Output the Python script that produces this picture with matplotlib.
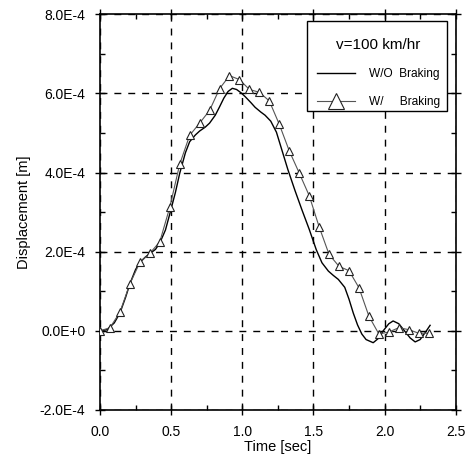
import matplotlib
matplotlib.use("Agg")
import matplotlib.pyplot as plt
from matplotlib.ticker import MultipleLocator, FixedLocator
from matplotlib.patches import Rectangle

plt.rcParams['font.family'] = ['Liberation Sans', 'DejaVu Sans']

# W/ Braking (triangles), time [s], displacement [1e-4 m]
t_brk = [0.00, 0.07, 0.14, 0.21, 0.28, 0.35, 0.42, 0.49, 0.56, 0.63, 0.70,
         0.77, 0.84, 0.91, 0.98, 1.05, 1.12, 1.19, 1.26, 1.33, 1.40, 1.47,
         1.54, 1.61, 1.68, 1.75, 1.82, 1.89, 1.96, 2.03, 2.10, 2.17, 2.24, 2.31]
d_brk = [0.00, 0.08, 0.47, 1.19, 1.73, 1.96, 2.25, 3.12, 4.21, 4.94, 5.25,
         5.57, 6.12, 6.45, 6.35, 6.10, 6.03, 5.81, 5.22, 4.55, 3.99, 3.42,
         2.63, 1.93, 1.63, 1.52, 1.09, 0.37, -0.08, -0.03, 0.08, 0.03, -0.06, -0.06]

# W/O Braking (solid line)
t_nob = [0.00, 0.05, 0.10, 0.14, 0.18, 0.21, 0.25, 0.28, 0.32, 0.35, 0.39,
         0.42, 0.46, 0.49, 0.53, 0.56, 0.60, 0.63, 0.67, 0.70, 0.74, 0.77,
         0.81, 0.84, 0.87, 0.90, 0.93, 0.96, 0.99, 1.02, 1.06, 1.09, 1.13,
         1.16, 1.20, 1.24, 1.28, 1.32, 1.37, 1.42, 1.47, 1.52, 1.56, 1.605,
         1.64, 1.675, 1.72, 1.75, 1.78, 1.81, 1.84, 1.87, 1.92, 1.96, 1.99,
         2.03, 2.06, 2.10, 2.14, 2.18, 2.215, 2.25, 2.29, 2.32]
d_nob = [0.00, 0.03, 0.20, 0.45, 0.85, 1.19, 1.55, 1.73, 1.87, 1.95, 2.06,
         2.22, 2.55, 2.95, 3.50, 3.98, 4.50, 4.78, 4.95, 5.05, 5.15, 5.25,
         5.45, 5.66, 5.88, 6.05, 6.13, 6.10, 6.02, 5.92, 5.77, 5.65, 5.53,
         5.45, 5.30, 5.02, 4.55, 4.08, 3.55, 3.05, 2.57, 2.05, 1.72, 1.51,
         1.40, 1.30, 1.10, 0.80, 0.45, 0.15, -0.08, -0.22, -0.30, -0.18, 0.00,
         0.18, 0.25, 0.18, 0.00, -0.18, -0.28, -0.22, -0.02, 0.14]

x_ticks = [0.0, 0.5, 1.0, 1.5, 2.0, 2.5]
x_ticklabels = ["0.0", "0.5", "1.0", "1.5", "2.0", "2.5"]
y_ticks = [-2e-4, 0.0, 2e-4, 4e-4, 6e-4, 8e-4]
y_ticklabels = ["-2.0E-4", "0.0E+0", "2.0E-4", "4.0E-4", "6.0E-4", "8.0E-4"]

fig = plt.figure(figsize=(4.70, 4.62), dpi=100)
ax = fig.add_axes([0.2128, 0.1126, 0.7568, 0.8564])

ax.plot(t_nob, [v * 1e-4 for v in d_nob], color='black', lw=1.0,
        label='W/O  Braking', zorder=3)
ax.plot(t_brk, [v * 1e-4 for v in d_brk], color='#555555', lw=0.8,
        marker='^', markersize=5.5, markerfacecolor='white',
        markeredgecolor='#222222', markeredgewidth=0.8, zorder=4)
# legend handle with larger triangle
ax.plot([], [], color='#555555', lw=0.8, marker='^', markersize=12,
        markerfacecolor='white', markeredgecolor='#222222',
        markeredgewidth=0.8, label='W/     Braking')

ax.set_xlim(0, 2.5)
ax.set_ylim(-2e-4, 8e-4)
ax.xaxis.set_major_locator(FixedLocator(x_ticks))
ax.set_xticklabels(x_ticklabels)
ax.yaxis.set_major_locator(FixedLocator(y_ticks))
ax.set_yticklabels(y_ticklabels)
ax.xaxis.set_minor_locator(MultipleLocator(0.25))
ax.yaxis.set_minor_locator(MultipleLocator(1e-4))

ax.tick_params(which='major', direction='inout', length=7, width=1.0,
               top=True, right=True, labelsize=10, pad=7, colors='black')
ax.tick_params(which='minor', direction='in', length=3.5, width=1.0,
               top=True, right=True)

ax.grid(True, which='major', color='black', linestyle=(0, (5, 5)), lw=1.0)

for s in ax.spines.values():
    s.set_linewidth(1.2)
    s.set_color('black')

ax.set_xlabel('Time [sec]', fontsize=10.5, labelpad=1)
ax.set_ylabel('Displacement [m]', fontsize=10.5, labelpad=6)

# legend frame
frame = Rectangle((0.581, 0.756), 0.395, 0.227, transform=ax.transAxes,
                  facecolor='white', edgecolor='black', lw=1.0, zorder=9)
ax.add_patch(frame)

leg = ax.legend(loc='upper left', bbox_to_anchor=(0.609, 0.941),
                title='v=100 km/hr', title_fontsize=11, fontsize=8.6,
                frameon=False, handlelength=3.2, handletextpad=1.2,
                borderpad=0, labelspacing=1.35, borderaxespad=0)
leg._legend_box.sep = 12
leg.set_zorder(10)

fig.savefig('out.png', dpi=100)
